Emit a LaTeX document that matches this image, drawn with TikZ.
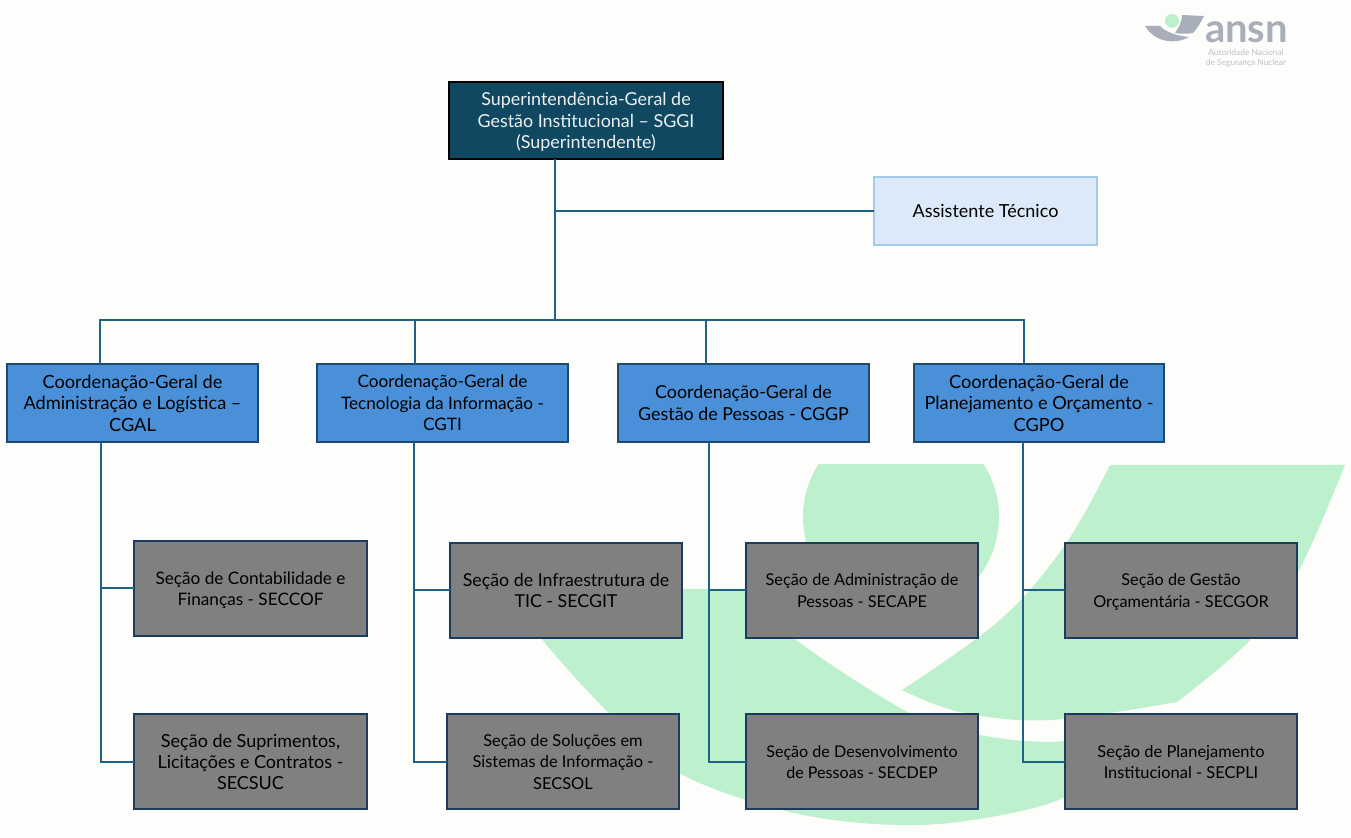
\documentclass[tikz,border=0pt]{standalone}
\usepackage{fontspec}
\setmainfont{Lato}
\definecolor{pagecol}{HTML}{FDFDFB}
\definecolor{markcol}{HTML}{BDF0CC}
\definecolor{logocol}{HTML}{A9AEBB}
\definecolor{capcol}{HTML}{BDBFC4}
\definecolor{linecol}{HTML}{1F6288}
\definecolor{topcol}{HTML}{104861}
\definecolor{coordcol}{HTML}{4A90D9}
\definecolor{asscol}{HTML}{DCE9F8}
\definecolor{assline}{HTML}{A5CBEB}
\definecolor{secline}{HTML}{1B3A5C}
\tikzset{
  fs/.style={font=\fontsize{#1}{10.7}\selectfont},
  basebox/.style={draw, rectangle, align=center, outer sep=0pt, line width=1pt, fs=8.4},
  topbox/.style={basebox, fill=topcol, text=white!92!topcol, draw=black, line width=1.2pt, minimum width=137pt, minimum height=38.5pt},
  assbox/.style={basebox, fill=asscol, draw=assline, minimum width=111.5pt, minimum height=34pt},
  coordbox/.style={basebox, fill=coordcol, draw=secline!60!linecol, minimum width=125.5pt, minimum height=39pt},
  secbox/.style={basebox, fill=black!50, draw=secline, minimum width=116.25pt, minimum height=47.5pt},
  conn/.style={draw=linecol, line width=1pt},
}
\begin{document}
\begin{tikzpicture}[x=.5pt,y=-.5pt]
\useasboundingbox (0,0) rectangle (1351,838);
\fill[pagecol] (0,0) rectangle (1351,838);
% watermark
\begin{scope}
  \clip (0,465) rectangle (1351,838);
  \fill[markcol] (901,517) circle (98);
  \fill[markcol] (1110,465) -- (1345,465)
    plot[smooth,tension=.6] coordinates {(1345,465) (1299,570) (1250,640) (1177,702)}
    -- plot[smooth,tension=.6] coordinates {(1177,702) (1049,720) (960,712) (902,690)}
    -- plot[smooth,tension=.6] coordinates {(902,690) (1000,620) (1065,545) (1110,465)} -- cycle;
  \fill[markcol] (510,589) -- (746,589)
    -- plot[smooth,tension=.6] coordinates {(746,589) (796,640) (913,715) (980,735) (1049,742) (1100,735)}
    -- plot[smooth,tension=.6] coordinates {(1100,760) (1065,797) (985,818) (897,825) (790,812) (679,773) (609,713) (541,638) (510,589)} -- cycle;
\end{scope}
% logo
\fill[logocol] (1145,26) -- (1160,26) .. controls (1165,32) and (1178,36) .. (1189,37) .. controls (1182,41) and (1174,42) .. (1168,41) .. controls (1158,40) and (1150,34) .. (1145,26) -- cycle;
\fill[logocol] (1182,15) -- (1204,16) .. controls (1200,24) and (1196,30) .. (1193,33) .. controls (1187,34) and (1181,34) .. (1175,33) .. controls (1179,28) and (1182,21) .. (1182,15) -- cycle;
\fill[markcol] (1172,21) circle (7);
\node[inner sep=0pt, text=logocol] (brand) at (1246.5,32.5) {\fontsize{20}{20}\selectfont\bfseries ansn};
\node[inner sep=0pt, text=capcol, align=center, font=\fontsize{4.2}{5}\selectfont] (brandcap) at (1246,58) {Autoridade Nacional\\de Segurança Nuclear};
% boxes
\node[topbox, fs=8.95, text depth=0pt] (sggi) at (586,120.5) {Superintendência-Geral de\\Gestão Institucional -- SGGI\\(Superintendente)};
\node[assbox, fs=9] (assist) at (985.5,211) {Assistente Técnico};
\node[coordbox, fs=9.1] (cgal) at (132.5,403) {Coordenação-Geral de\\Administração e Logística --\\CGAL};
\node[coordbox, fs=8.6] (cgti) at (442.5,403) {Coordenação-Geral de\\Tecnologia da Informação -\\CGTI};
\node[coordbox, fs=8.95] (cggp) at (743.5,403) {Coordenação-Geral de\\Gestão de Pessoas - CGGP};
\node[coordbox, fs=9.1, minimum width=125pt] (cgpo) at (1039,403) {Coordenação-Geral de\\Planejamento e Orçamento -\\CGPO};
\node[secbox, fs=8.6, text depth=0pt] (seccof) at (250.5,588.5) {Seção de Contabilidade e\\Finanças - SECCOF};
\node[secbox, fs=9] (secsuc) at (250.5,762) {Seção de Suprimentos,\\Licitações e Contratos -\\SECSUC};
\node[secbox, fs=8.9] (secgit) at (566,590.5) {Seção de Infraestrutura de\\TIC - SECGIT};
\node[secbox, fs=8.2] (secsol) at (563,762) {Seção de Soluções em\\Sistemas de Informação -\\SECSOL};
\node[secbox, fs=8.15] (secape) at (862,590.5) {Seção de Administração de\\Pessoas - SECAPE};
\node[secbox, fs=8.05] (secdep) at (862,762) {Seção de Desenvolvimento\\de Pessoas - SECDEP};
\node[secbox, fs=8.15, text depth=0pt] (secgor) at (1181,590.5) {Seção de Gestão\\Orçamentária - SECGOR};
\node[secbox, fs=8.2] (secpli) at (1181,762) {Seção de Planejamento\\Institucional - SECPLI};
% connectors
\coordinate (trunk) at (555,320);
\draw[conn] (trunk |- sggi.south) -- (trunk);
\draw[conn] (trunk |- assist.west) -- (assist.west);
\foreach \n/\x in {cgal/100,cgti/415,cggp/706,cgpo/1024}{
  \coordinate (bus\n) at (\x,320);
  \draw[conn] (bus\n |- \n.north) -- (bus\n) -- (trunk);
}
\foreach \n/\x/\a/\b in {cgal/101/seccof/secsuc,cgti/414/secgit/secsol,cggp/709/secape/secdep,cgpo/1023/secgor/secpli}{
  \coordinate (down\n) at (\x,442);
  \draw[conn] (down\n) |- (\b.west);
  \draw[conn] (down\n |- \a.west) -- (\a.west);
}
\end{tikzpicture}
\end{document}
